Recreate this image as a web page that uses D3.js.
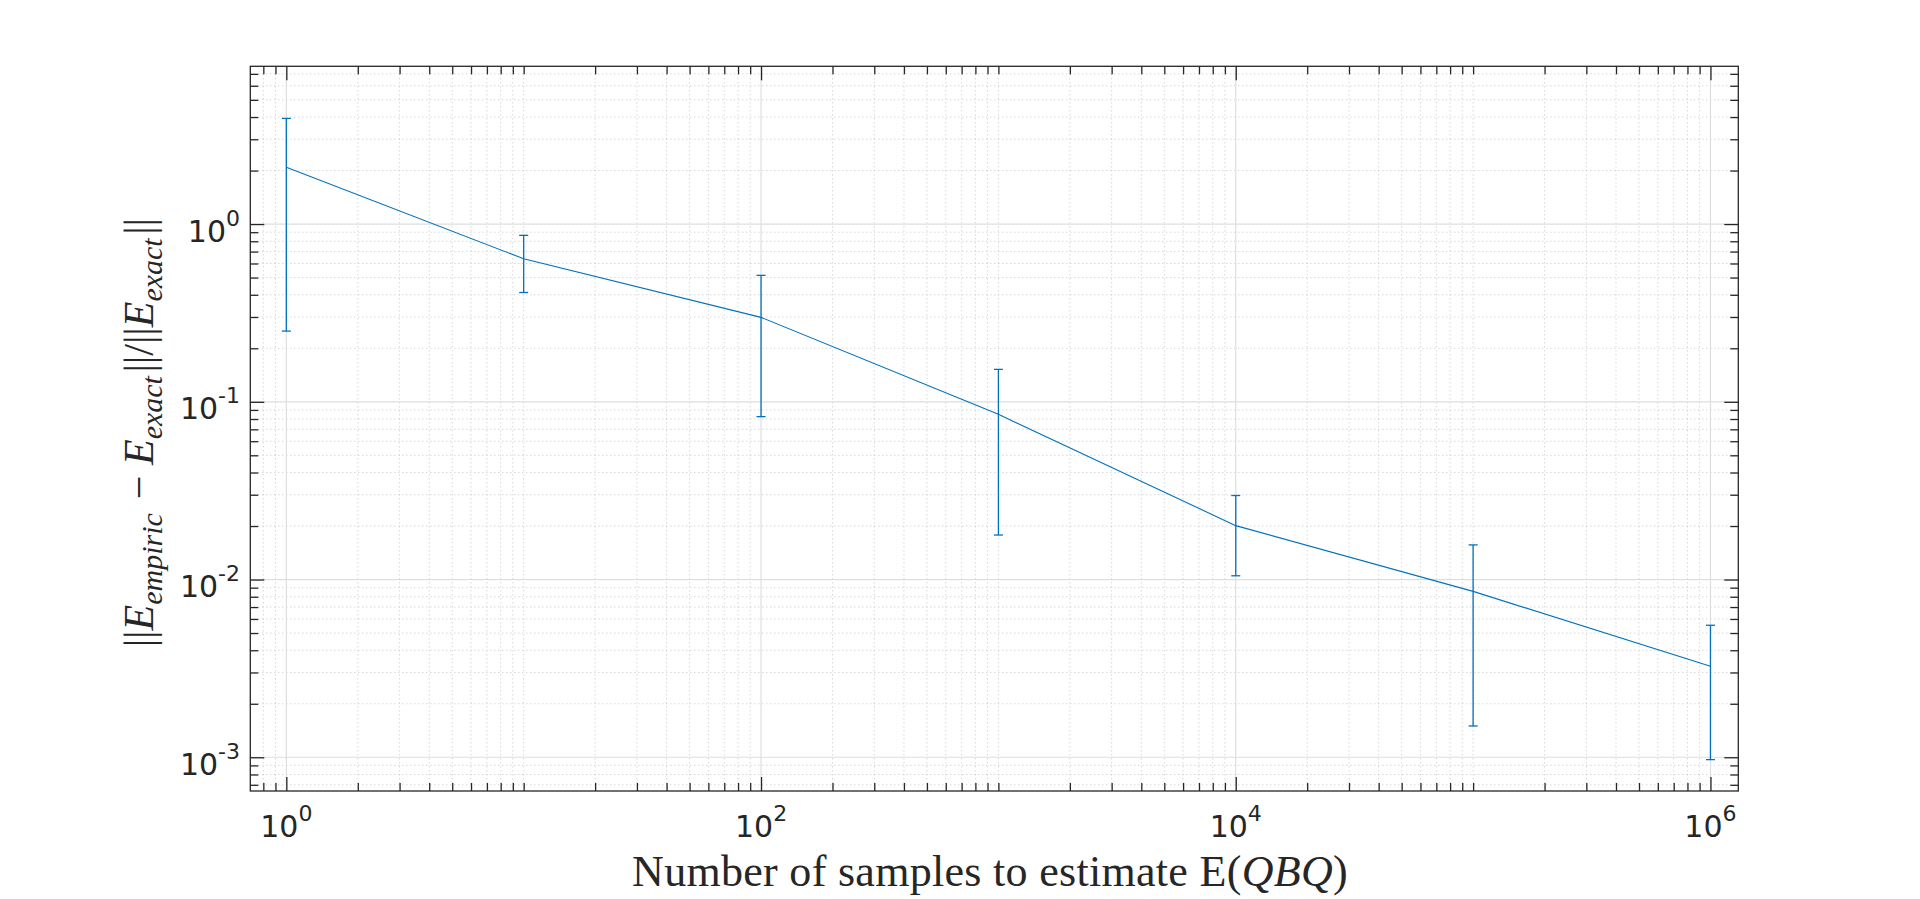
<!DOCTYPE html>
<html>
<head>
<meta charset="utf-8">
<script src="https://cdn.jsdelivr.net/npm/d3@7/dist/d3.min.js"></script>
<style>
  html, body { margin: 0; padding: 0; background: #ffffff; }
  svg { display: block; }
</style>
</head>
<body>
<svg id="chart" width="1920" height="899"></svg>
<script>
// ---- data ----
const samples = [1, 10, 100, 1000, 10000, 100000, 1000000];
const meanErr = [2.09, 0.638, 0.2985, 0.085, 0.0201, 0.00858, 0.00325];
const stdErr  = [1.84, 0.226, 0.216, 0.0672, 0.0096, 0.00708, 0.00228];

const xTickValues = [1, 100, 10000, 1000000];
const xTickExps   = ["0", "2", "4", "6"];
const yTickValues = [0.001, 0.01, 0.1, 1];
const yTickExps   = ["-3", "-2", "-1", "0"];

const xDomain = [0.705, 1.31e6];
const yDomain = [6.46e-4, 7.72];

// ---- layout ----
const L = 250.3, R = 1738.3, T = 66.3, B = 791;
const ink = "#262626";
const blue = "#0072BD";

const svg = d3.select("#chart");

const x = d3.scaleLog().domain(xDomain).range([L, R]);
const y = d3.scaleLog().domain(yDomain).range([B, T]);

function minorsLog(domain, skipMajors) {
  const out = [];
  const lo = Math.floor(Math.log10(domain[0])), hi = Math.ceil(Math.log10(domain[1]));
  for (let e = lo; e <= hi; e++) {
    for (let m = 1; m <= 9; m++) {
      const v = m * Math.pow(10, e);
      if (v < domain[0] || v > domain[1]) continue;
      if (m === 1 && skipMajors(e)) continue;
      out.push(v);
    }
  }
  return out;
}
const xMinor = minorsLog(xDomain, e => e % 2 === 0);
const yMinor = minorsLog(yDomain, e => true);

const gGrid = svg.append("g");
gGrid.selectAll("line.xm").data(xMinor).join("line")
  .attr("x1", d => x(d)).attr("x2", d => x(d)).attr("y1", T).attr("y2", B)
  .attr("stroke", "#c4c4c4").attr("stroke-width", 1).attr("stroke-dasharray", "1,3");
gGrid.selectAll("line.ym").data(yMinor).join("line")
  .attr("x1", L).attr("x2", R).attr("y1", d => y(d)).attr("y2", d => y(d))
  .attr("stroke", "#c4c4c4").attr("stroke-width", 1).attr("stroke-dasharray", "1,3");
gGrid.selectAll("line.xM").data(xTickValues).join("line")
  .attr("x1", d => x(d)).attr("x2", d => x(d)).attr("y1", T).attr("y2", B)
  .attr("stroke", "#dedede").attr("stroke-width", 1.2);
gGrid.selectAll("line.yM").data(yTickValues).join("line")
  .attr("x1", L).attr("x2", R).attr("y1", d => y(d)).attr("y2", d => y(d))
  .attr("stroke", "#dedede").attr("stroke-width", 1.2);

function axisGroup(axis, tx, ty) {
  const g = svg.append("g").attr("transform", `translate(${tx},${ty})`).call(axis);
  g.select(".domain").remove();
  g.selectAll("line").attr("stroke", ink).attr("stroke-width", 1.3);
  g.selectAll("text").remove();
  return g;
}
axisGroup(d3.axisBottom(x).tickValues(xMinor).tickSize(-8).tickFormat(""), 0, B);
axisGroup(d3.axisBottom(x).tickValues(xTickValues).tickSize(-14).tickFormat(""), 0, B);
axisGroup(d3.axisTop(x).tickValues(xMinor).tickSize(-8).tickFormat(""), 0, T);
axisGroup(d3.axisTop(x).tickValues(xTickValues).tickSize(-14).tickFormat(""), 0, T);
axisGroup(d3.axisLeft(y).tickValues(yMinor).tickSize(-8).tickFormat(""), L, 0);
axisGroup(d3.axisLeft(y).tickValues(yTickValues).tickSize(-14).tickFormat(""), L, 0);
axisGroup(d3.axisRight(y).tickValues(yMinor).tickSize(-8).tickFormat(""), R, 0);
axisGroup(d3.axisRight(y).tickValues(yTickValues).tickSize(-14).tickFormat(""), R, 0);

svg.append("rect").attr("x", L).attr("y", T).attr("width", R - L).attr("height", B - T)
  .attr("fill", "none").attr("stroke", ink).attr("stroke-width", 1.3);

// ---- data: line + error bars ----
const pts = samples.map((s, i) => ({ s, m: meanErr[i], e: stdErr[i] }));
const line = d3.line().x(d => x(d.s)).y(d => y(d.m));
svg.append("path").datum(pts).attr("d", line)
  .attr("fill", "none").attr("stroke", blue).attr("stroke-width", 1.1);

const cap = 4.5;
const gErr = svg.append("g").attr("stroke", blue).attr("stroke-width", 1.3);
gErr.selectAll("line.v").data(pts).join("line")
  .attr("x1", d => x(d.s)).attr("x2", d => x(d.s))
  .attr("y1", d => y(d.m + d.e)).attr("y2", d => y(d.m - d.e));
gErr.selectAll("line.t").data(pts).join("line")
  .attr("x1", d => x(d.s) - cap).attr("x2", d => x(d.s) + cap)
  .attr("y1", d => y(d.m + d.e)).attr("y2", d => y(d.m + d.e));
gErr.selectAll("line.b").data(pts).join("line")
  .attr("x1", d => x(d.s) - cap).attr("x2", d => x(d.s) + cap)
  .attr("y1", d => y(d.m - d.e)).attr("y2", d => y(d.m - d.e));

// ---- tick labels ----
const tickFont = "'DejaVu Sans', sans-serif";
function powLabel(sel, exp) {
  sel.append("tspan").text("10");
  sel.append("tspan").attr("font-size", 22).attr("dy", -16).text(exp);
}
xTickValues.forEach((v, i) => {
  const t = svg.append("text").attr("x", x(v)).attr("y", 837)
    .attr("text-anchor", "middle").attr("font-family", tickFont)
    .attr("font-size", 30).attr("fill", ink);
  powLabel(t, xTickExps[i]);
});
yTickValues.forEach((v, i) => {
  const t = svg.append("text").attr("x", 240).attr("y", y(v) + 17.7)
    .attr("text-anchor", "end").attr("font-family", tickFont)
    .attr("font-size", 30).attr("fill", ink);
  powLabel(t, yTickExps[i]);
});

// ---- axis labels ----
const serif = "'Liberation Serif', 'Times New Roman', serif";
const xl = svg.append("text").attr("x", 990).attr("y", 886)
  .attr("text-anchor", "middle").attr("font-family", serif)
  .attr("font-size", 44).attr("letter-spacing", 0.3).attr("fill", ink);
xl.append("tspan").text("Number of samples to estimate E(");
xl.append("tspan").attr("font-style", "italic").text("QBQ");
xl.append("tspan").text(")");

const yl = svg.append("text")
  .attr("transform", `translate(153,${(T + B) / 2 + 4}) rotate(-90)`)
  .attr("text-anchor", "middle").attr("font-family", serif)
  .attr("font-size", 42).attr("fill", ink);
function part(txt, italic) {
  const s = yl.append("tspan").text(txt);
  if (italic) s.attr("font-style", "italic");
  return s;
}
function sub(txt) {
  yl.append("tspan").attr("font-style", "italic").attr("font-size", 30).attr("dy", 9).text(txt);
  yl.append("tspan").attr("dy", -9).text("\u200A");
}
part("||", false); part("E", true); sub("empiric");
part(" \u2212 ", false); part("E", true); sub("exact");
part("||/||", false); part("E", true); sub("exact");
part("||", false);
</script>
</body>
</html>
